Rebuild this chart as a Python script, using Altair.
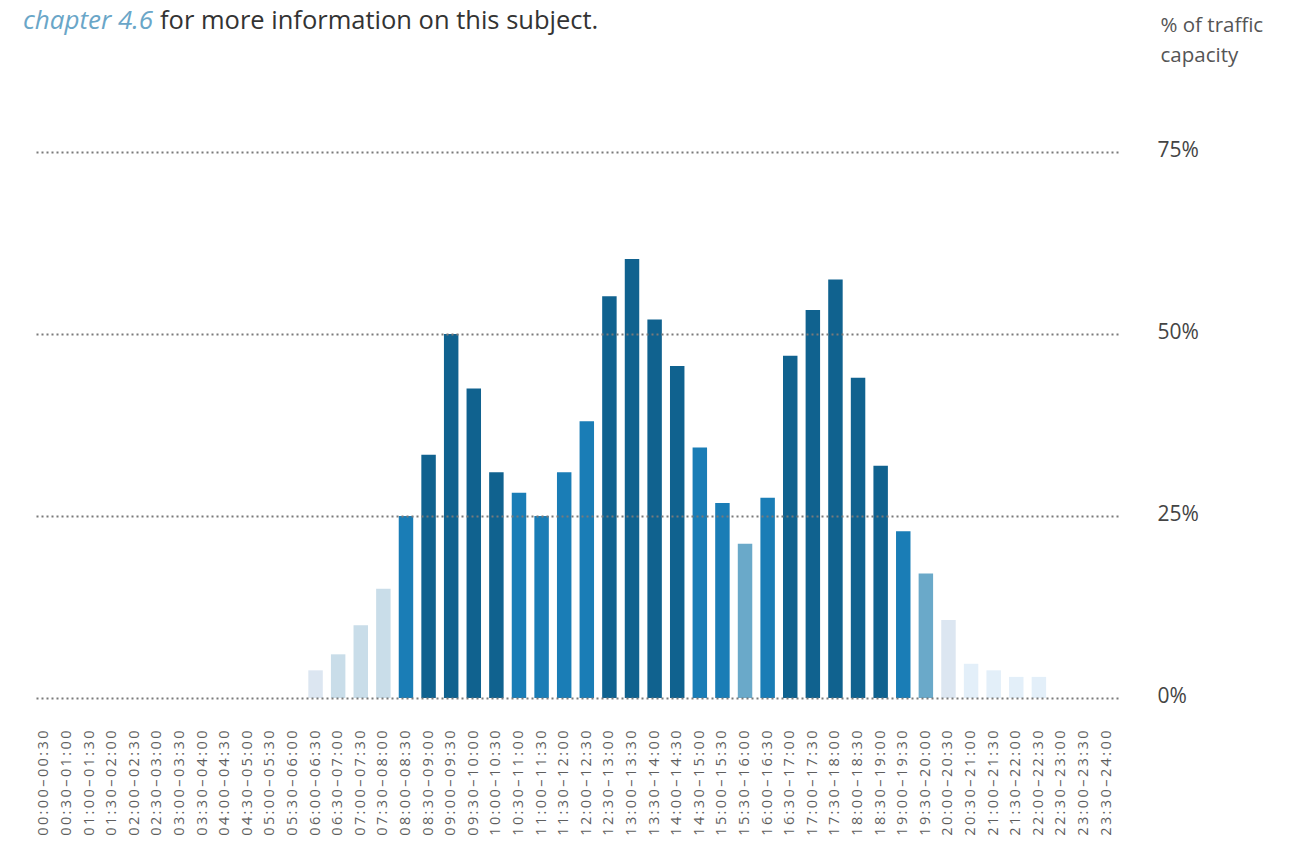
import altair as alt
import pandas as pd

SLOTS = [
    "00:00–00:30", "00:30–01:00", "01:00–01:30", "01:30–02:00", "02:00–02:30", "02:30–03:00",
    "03:00–03:30", "03:30–04:00", "04:00–04:30", "04:30–05:00", "05:00–05:30", "05:30–06:00",
    "06:00–06:30", "06:30–07:00", "07:00–07:30", "07:30–08:00", "08:00–08:30", "08:30–09:00",
    "09:00–09:30", "09:30–10:00", "10:00–10:30", "10:30–11:00", "11:00–11:30", "11:30–12:00",
    "12:00–12:30", "12:30–13:00", "13:00–13:30", "13:30–14:00", "14:00–14:30", "14:30–15:00",
    "15:00–15:30", "15:30–16:00", "16:00–16:30", "16:30–17:00", "17:00–17:30", "17:30–18:00",
    "18:00–18:30", "18:30–19:00", "19:00–19:30", "19:30–20:00", "20:00–20:30", "20:30–21:00",
    "21:00–21:30", "21:30–22:00", "22:00–22:30", "22:30–23:00", "23:00–23:30", "23:30–24:00",
]

VALUES = [
    0, 0, 0, 0, 0, 0,
    0, 0, 0, 0, 0, 0,
    3.8, 6.0, 10.0, 15.0, 25.0, 33.4,
    50.0, 42.5, 31.0, 28.2, 25.0, 31.0,
    38.0, 55.2, 60.3, 52.0, 45.6, 34.4,
    26.8, 21.2, 27.5, 47.0, 53.3, 57.5,
    44.0, 31.9, 22.9, 17.1, 10.7, 4.7,
    3.8, 2.9, 2.9, 0, 0, 0,
]

LEVELS = (["n"] * 12 + ["v"] + ["p"] * 3 + ["m"] + ["d"] * 4 + ["m"] * 4 + ["d"] * 4
          + ["m"] * 2 + ["l"] + ["m"] + ["d"] * 5 + ["m"] + ["l"] + ["v"] + ["x"] * 4 + ["n"] * 3)

LEVEL_DOMAIN = ["d", "m", "l", "p", "v", "x", "n"]
LEVEL_COLORS = ["#10628f", "#1a7db6", "#6aa9c9", "#c9dde9", "#dce6f1", "#e3eff9", "#ffffff"]

Y_TICKS = [0, 25, 50, 75]
HEADER_LINK = ["chapter 4.6"]
HEADER_REST = ["for more information on this subject."]
AXIS_TITLE = ["% of traffic", "capacity"]

FONT = "Open Sans"

df = pd.DataFrame({"slot": SLOTS, "value": VALUES, "level": LEVELS})

bars = alt.Chart(df).mark_bar().encode(
    x=alt.X(
        "slot:N",
        sort=SLOTS,
        scale=alt.Scale(paddingInner=0.36, paddingOuter=0.18),
        axis=alt.Axis(
            title=None,
            labelAngle=270,
            ticks=False,
            domain=False,
            labelPadding=32,
            labelFontSize=14.5,
            labelColor="#5e5e5e",
            labelFont=FONT,
            labelExpr="join(split(datum.label, ''), '\u2009')",
        ),
    ),
    y=alt.Y(
        "value:Q",
        scale=alt.Scale(domain=[0, 75]),
        axis=alt.Axis(
            orient="right",
            values=Y_TICKS,
            labelExpr="datum.value + '%'",
            ticks=False,
            domain=False,
            grid=True,
            gridColor="#7a7a7a",
            gridDash=[2, 3],
            gridWidth=2.2,
            gridOpacity=1,
            labelPadding=39,
            labelAlign="left",
            labelOffset=-2,
            labelFontSize=21,
            labelColor="#444444",
            labelFont=FONT,
            title=AXIS_TITLE,
            titleAngle=0,
            titleAlign="left",
            titleBaseline="alphabetic",
            titleX=42,
            titleY=-121,
            titleFont=FONT,
            titleFontSize=20.5,
            titleFontWeight="normal",
            titleColor="#555555",
            titleLineHeight=30,
            zindex=1,
        ),
    ),
    color=alt.Color(
        "level:N",
        scale=alt.Scale(domain=LEVEL_DOMAIN, range=LEVEL_COLORS),
        legend=None,
    ),
)

link = alt.Chart(pd.DataFrame({"t": HEADER_LINK})).mark_text(
    align="left", baseline="alphabetic", font=FONT, fontSize=26,
    fontStyle="italic", color="#6aa6c8",
).encode(x=alt.value(-10), y=alt.value(-123), text="t:N")

rest = alt.Chart(pd.DataFrame({"t": HEADER_REST})).mark_text(
    align="left", baseline="alphabetic", font=FONT, fontSize=25.5,
    color="#333333",
).encode(x=alt.value(127), y=alt.value(-123), text="t:N")

chart = alt.layer(bars, link, rest).properties(
    width=1085,
    height=546,
    autosize="none",
    padding={"left": 25, "top": 144, "right": 170, "bottom": 140},
).configure_view(stroke=None)

chart.save("out.html", embed_options={"renderer": "svg", "actions": False})
